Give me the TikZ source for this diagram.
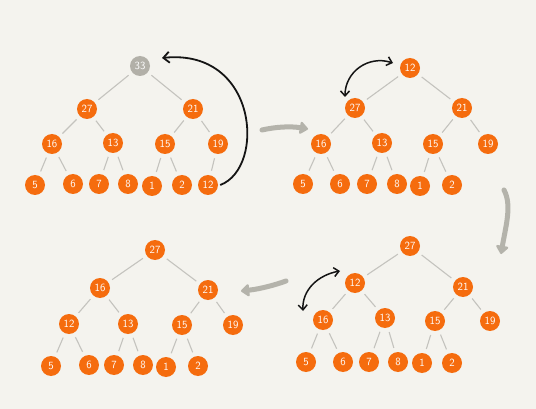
\documentclass[tikz,border=0pt]{standalone}
\usetikzlibrary{arrows.meta}
\definecolor{bgc}{RGB}{244,243,238}
\definecolor{nodeor}{RGB}{245,108,14}
\definecolor{nodegr}{RGB}{178,176,168}
\definecolor{edgegr}{RGB}{196,195,190}
\definecolor{arrgr}{RGB}{180,179,171}
\definecolor{inkc}{RGB}{20,20,20}
\tikzset{
  hn/.style={circle,fill=nodeor,text=white,minimum size=20pt,inner sep=0pt,font=\sffamily\fontsize{11}{11}\selectfont},
  hg/.style={hn,fill=nodegr},
  edge/.style={draw=edgegr,line width=1.1pt,shorten >=4.5pt,shorten <=4.5pt},
  swap/.style={draw=inkc,line width=1.5pt,{Straight Barb[length=5pt,width=9pt]}-{Straight Barb[length=5pt,width=9pt]}},
  move/.style={draw=inkc,line width=1.8pt,-{Straight Barb[length=6pt,width=11pt]}},
  flow/.style={draw=arrgr,line width=5pt,line cap=round,-{Triangle[length=9pt,width=14pt,round]}}
}
\begin{document}
\begin{tikzpicture}[x=1pt,y=-1pt]
\fill[bgc] (0,0) rectangle (536,409);
\useasboundingbox (0,0) rectangle (536,409);
% tree A
\node[hg] (A1) at (140,66) {33};
\node[hn] (A2) at (87,109) {27};
\node[hn] (A3) at (193,109) {21};
\node[hn] (A4) at (52,144) {16};
\node[hn] (A5) at (113,143) {13};
\node[hn] (A6) at (165,144) {15};
\node[hn] (A7) at (218,144) {19};
\node[hn] (A8) at (35,185) {5};
\node[hn] (A9) at (73,184) {6};
\node[hn] (A10) at (99,184) {7};
\node[hn] (A11) at (128,184) {8};
\node[hn] (A12) at (152,186) {1};
\node[hn] (A13) at (182,185) {2};
\node[hn] (A14) at (208,185) {12};
% tree B
\node[hn] (B1) at (410,68) {12};
\node[hn] (B2) at (355,108) {27};
\node[hn] (B3) at (462,108) {21};
\node[hn] (B4) at (321,144) {16};
\node[hn] (B5) at (382,143) {13};
\node[hn] (B6) at (433,144) {15};
\node[hn] (B7) at (488,144) {19};
\node[hn] (B8) at (303,184) {5};
\node[hn] (B9) at (340,184) {6};
\node[hn] (B10) at (367,184) {7};
\node[hn] (B11) at (397,184) {8};
\node[hn] (B12) at (420,186) {1};
\node[hn] (B13) at (452,185) {2};
% tree C
\node[hn] (C1) at (155,250) {27};
\node[hn] (C2) at (100,288) {16};
\node[hn] (C3) at (208,290) {21};
\node[hn] (C4) at (69,324) {12};
\node[hn] (C5) at (128,324) {13};
\node[hn] (C6) at (182,325) {15};
\node[hn] (C7) at (233,325) {19};
\node[hn] (C8) at (51,366) {5};
\node[hn] (C9) at (89,365) {6};
\node[hn] (C10) at (114,365) {7};
\node[hn] (C11) at (143,365) {8};
\node[hn] (C12) at (166,367) {1};
\node[hn] (C13) at (198,366) {2};
% tree D
\node[hn] (D1) at (410,246) {27};
\node[hn] (D2) at (355,283) {12};
\node[hn] (D3) at (463,287) {21};
\node[hn] (D4) at (323,320) {16};
\node[hn] (D5) at (385,318) {13};
\node[hn] (D6) at (435,321) {15};
\node[hn] (D7) at (490,321) {19};
\node[hn] (D8) at (306,362) {5};
\node[hn] (D9) at (343,362) {6};
\node[hn] (D10) at (369,362) {7};
\node[hn] (D11) at (398,362) {8};
\node[hn] (D12) at (422,363) {1};
\node[hn] (D13) at (452,363) {2};
% edges
\foreach \t in {A,B,C,D}
  \foreach \p/\c in {1/2,1/3,2/4,2/5,3/6,3/7,4/8,4/9,5/10,5/11,6/12,6/13}
    \draw[edge] (\t\p) -- (\t\c);
\draw[edge] (A7) -- (A14);
% black arrows
\coordinate (mA) at (162,58);
\draw[move] ([xshift=2pt]A14.east) .. controls (266,168) and (258,48) .. (mA);
\coordinate (sB1) at (393,63);
\coordinate (sB2) at (345,97);
\draw[swap] (sB1) .. controls (368,55) and (345,72) .. (sB2);
\coordinate (sD1) at (340,271);
\coordinate (sD2) at (303,311);
\draw[swap] (sD1) .. controls (318,275) and (302,290) .. (sD2);
% grey flow arrows
\coordinate (f1s) at (262,130);
\coordinate (f1e) at (308,129);
\draw[flow] (f1s) .. controls (275,127) and (290,126) .. (f1e);
\coordinate (f2s) at (504,190);
\coordinate (f2e) at (501,254);
\draw[flow] (f2s) .. controls (512,205) and (506,225) .. (f2e);
\coordinate (f3s) at (286,281);
\coordinate (f3e) at (241,291);
\draw[flow] (f3s) .. controls (275,285) and (260,289) .. (f3e);
\end{tikzpicture}
\end{document}
